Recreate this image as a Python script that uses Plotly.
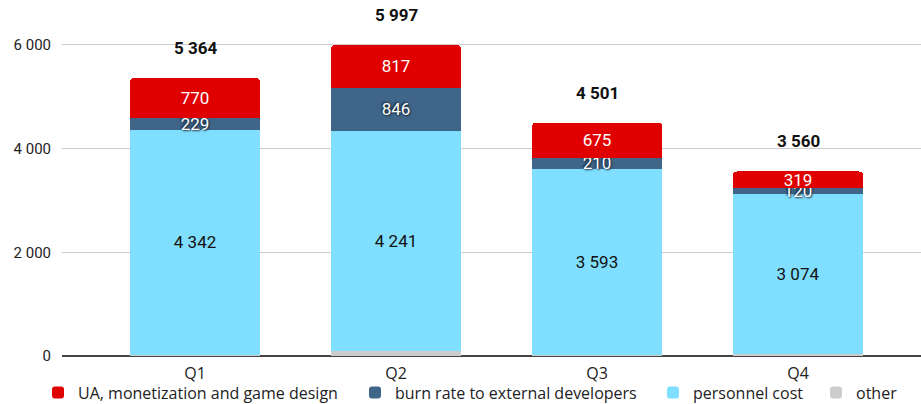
import plotly.graph_objects as go

quarters = ["Q1", "Q2", "Q3", "Q4"]
other = [23, 93, 23, 47]
personnel = [4342, 4241, 3593, 3074]
burn = [229, 846, 210, 120]
ua = [770, 817, 675, 319]
totals = [5364, 5997, 4501, 3560]
tick_vals = [0, 2000, 4000, 6000]
tick_text = ["0", "2 000", "4 000", "6 000"]
series_names = ["other", "personnel cost", "burn rate to external developers",
                "UA, monetization and game design"]

def fmt(v):
    return f"{v:,}".replace(",", " ")

fig = go.Figure()
fig.add_bar(x=quarters, y=other, name=series_names[0], marker_color="#cccccc",
            textposition="none", hoverinfo="skip", legend="legend4")
fig.add_bar(x=quarters, y=personnel, name=series_names[1], marker_color="#80dfff",
            text=[fmt(v) for v in personnel], textposition="inside",
            insidetextanchor="middle", legend="legend3",
            textfont=dict(family="Roboto", size=17, color="#111111"))
fig.add_bar(x=quarters, y=burn, name=series_names[2], marker_color="#3f6689",
            text=[fmt(v) for v in burn], textposition="inside",
            insidetextanchor="middle", legend="legend2",
            textfont=dict(family="Roboto", size=17, color="#ffffff",
                          shadow="1px 1px 2px #1a2a3a, -1px -1px 2px #1a2a3a"))
fig.add_bar(x=quarters, y=ua, name=series_names[3], marker_color="#e00000",
            text=[fmt(v) for v in ua], textposition="inside",
            insidetextanchor="middle", legend="legend",
            textfont=dict(family="Roboto", size=17, color="#ffffff"))

for q, t in zip(quarters, totals):
    fig.add_annotation(x=q, y=t, text=f"<b>{fmt(t)}</b>", showarrow=False,
                       yshift=30, font=dict(family="Roboto", size=17, color="#111111"))

fig.update_traces(marker_line_width=0, constraintext="none", selector=dict(type="bar"))

def leg(xpx):
    return dict(orientation="h", xref="container", x=xpx / 921, xanchor="left",
                yref="container", y=0.028, yanchor="middle",
                bgcolor="rgba(0,0,0,0)",
                font=dict(family="Open Sans", size=16, color="#222222"),
                itemclick=False)

fig.update_layout(
    width=921, height=404,
    barmode="stack", bargap=0.353, barcornerradius=4,
    margin=dict(l=62, r=0, t=0, b=48, autoexpand=False),
    plot_bgcolor="white", paper_bgcolor="white",
    uniformtext=dict(minsize=17, mode="show"),
    showlegend=True,
    legend=leg(38), legend2=leg(355), legend3=leg(653), legend4=leg(816),
    xaxis=dict(range=[-0.662, 3.612], showline=False, ticks="",
               ticklabelstandoff=6,
               tickfont=dict(family="Open Sans", size=16, color="#222222")),
    yaxis=dict(range=[0, 6868], tickvals=tick_vals, ticktext=tick_text,
               showgrid=True, gridcolor="#cccccc", gridwidth=1,
               zeroline=True, zerolinecolor="#444444", zerolinewidth=1.5,
               ticklabelstandoff=10,
               tickfont=dict(family="Roboto", size=15, color="#222222")),
)

fig.write_html("out.html")
